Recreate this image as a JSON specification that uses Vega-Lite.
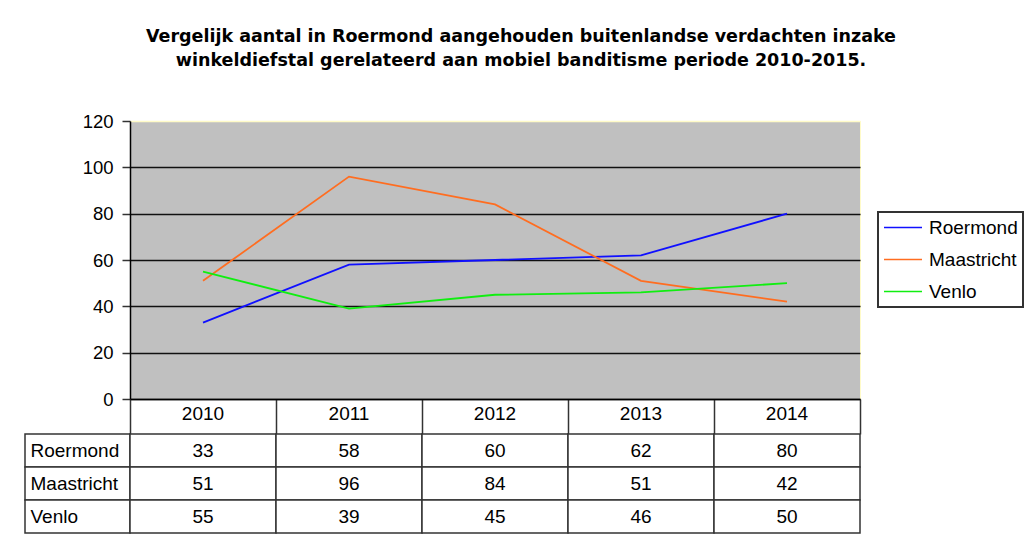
{
  "$schema": "https://vega.github.io/schema/vega-lite/v6.json",
  "padding": {"left": 24, "top": 28, "right": 0, "bottom": 4},
  "background": "white",
  "title": {
    "text": ["Vergelijk aantal in Roermond aangehouden buitenlandse verdachten inzake", "winkeldiefstal gerelateerd aan mobiel banditisme periode 2010-2015."],
    "font": "DejaVu Sans",
    "fontSize": 17.5,
    "fontWeight": "bold",
    "lineHeight": 24,
    "color": "#000000",
    "anchor": "start",
    "align": "center",
    "frame": "group",
    "dx": 496,
    "offset": 42
  },
  "datasets": {
    "series": [
      {"city": "Roermond", "year": "2010", "value": 33},
      {"city": "Roermond", "year": "2011", "value": 58},
      {"city": "Roermond", "year": "2012", "value": 60},
      {"city": "Roermond", "year": "2013", "value": 62},
      {"city": "Roermond", "year": "2014", "value": 80},
      {"city": "Maastricht", "year": "2010", "value": 51},
      {"city": "Maastricht", "year": "2011", "value": 96},
      {"city": "Maastricht", "year": "2012", "value": 84},
      {"city": "Maastricht", "year": "2013", "value": 51},
      {"city": "Maastricht", "year": "2014", "value": 42},
      {"city": "Venlo", "year": "2010", "value": 55},
      {"city": "Venlo", "year": "2011", "value": 39},
      {"city": "Venlo", "year": "2012", "value": 45},
      {"city": "Venlo", "year": "2013", "value": 46},
      {"city": "Venlo", "year": "2014", "value": 50}
    ],
    "cities": [
      {"city": "Roermond"},
      {"city": "Maastricht"},
      {"city": "Venlo"}
    ]
  },
  "columns": 2,
  "spacing": {"row": 35, "column": 0},
  "bounds": "flush",
  "concat": [
    {
      "width": 105,
      "height": 278,
      "data": {"values": []},
      "mark": "point",
      "encoding": {}
    },
    {
      "width": 730,
      "height": 278,
      "view": {"fill": "#c0c0c0", "stroke": "#fffbc8", "strokeWidth": 1},
      "data": {"name": "series"},
      "mark": {"type": "line", "strokeWidth": 1.8},
      "encoding": {
        "x": {
          "field": "year",
          "type": "ordinal",
          "scale": {"type": "band", "paddingInner": 0, "paddingOuter": 0},
          "axis": {
            "title": null,
            "orient": "bottom",
            "labelAngle": 0,
            "bandPosition": 1,
            "tickExtra": true,
            "tickSize": 35,
            "tickColor": "#333333",
            "tickWidth": 1.5,
            "labelPadding": -21,
            "labelBaseline": "middle",
            "labelFont": "Liberation Sans",
            "labelFontSize": 19,
            "labelColor": "#000000",
            "domainColor": "#000000",
            "domainWidth": 1.5,
            "grid": false
          }
        },
        "y": {
          "field": "value",
          "type": "quantitative",
          "scale": {"domain": [0, 120], "nice": false},
          "axis": {
            "title": null,
            "values": [0, 20, 40, 60, 80, 100, 120],
            "grid": true,
            "gridColor": {"condition": {"test": "datum.value === 120", "value": "#fffbc8"}, "value": "#111111"},
            "gridWidth": 1.5,
            "tickSize": 8,
            "tickColor": "#333333",
            "tickWidth": 1.5,
            "labelPadding": 9,
            "labelFont": "Liberation Sans",
            "labelFontSize": 18.5,
            "labelColor": "#000000",
            "domainColor": "#000000",
            "domainWidth": 1.5
          }
        },
        "color": {
          "field": "city",
          "type": "nominal",
          "scale": {"domain": ["Roermond", "Maastricht", "Venlo"], "range": ["#1010ff", "#ff6d20", "#10ee10"]},
          "legend": {
            "title": null,
            "orient": "none",
            "legendX": 853,
            "legendY": 91,
            "symbolType": "M-1,0H3",
            "symbolSize": 361,
            "symbolStrokeWidth": 1.5,
            "labelFont": "Liberation Sans",
            "labelFontSize": 19,
            "labelColor": "#000000",
            "labelOffset": 25,
            "padding": 5,
            "rowPadding": 11,
            "strokeColor": "#333333",
            "fillColor": "#ffffff",
            "encode": {"legend": {"update": {"strokeWidth": {"value": 2}}}}
          }
        }
      }
    },
    {
      "width": 105,
      "height": 99,
      "data": {"name": "cities"},
      "layer": [
        {
          "mark": {"type": "rect", "fill": "#ffffff", "stroke": "#333333", "strokeWidth": 1.5},
          "encoding": {
            "y": {"field": "city", "type": "nominal", "sort": ["Roermond", "Maastricht", "Venlo"], "scale": {"type": "band", "paddingInner": 0, "paddingOuter": 0}, "axis": null}
          }
        },
        {
          "mark": {"type": "text", "align": "left", "dx": -47, "font": "Liberation Sans", "fontSize": 19, "color": "#000000"},
          "encoding": {
            "y": {"field": "city", "type": "nominal", "sort": ["Roermond", "Maastricht", "Venlo"], "scale": {"type": "band", "paddingInner": 0, "paddingOuter": 0}, "axis": null},
            "text": {"field": "city"}
          }
        }
      ]
    },
    {
      "width": 730,
      "height": 99,
      "data": {"name": "series"},
      "layer": [
        {
          "mark": {"type": "rect", "fill": "#ffffff", "stroke": "#333333", "strokeWidth": 1.5},
          "encoding": {
            "x": {"field": "year", "type": "ordinal", "scale": {"type": "band", "paddingInner": 0, "paddingOuter": 0}, "axis": null},
            "y": {"field": "city", "type": "nominal", "sort": ["Roermond", "Maastricht", "Venlo"], "scale": {"type": "band", "paddingInner": 0, "paddingOuter": 0}, "axis": null}
          }
        },
        {
          "mark": {"type": "text", "font": "Liberation Sans", "fontSize": 19, "color": "#000000"},
          "encoding": {
            "x": {"field": "year", "type": "ordinal", "scale": {"type": "band", "paddingInner": 0, "paddingOuter": 0}, "axis": null},
            "y": {"field": "city", "type": "nominal", "sort": ["Roermond", "Maastricht", "Venlo"], "scale": {"type": "band", "paddingInner": 0, "paddingOuter": 0}, "axis": null},
            "text": {"field": "value", "type": "quantitative"}
          }
        }
      ]
    }
  ],
  "config": {
    "view": {"stroke": null},
    "font": "Liberation Sans"
  }
}
